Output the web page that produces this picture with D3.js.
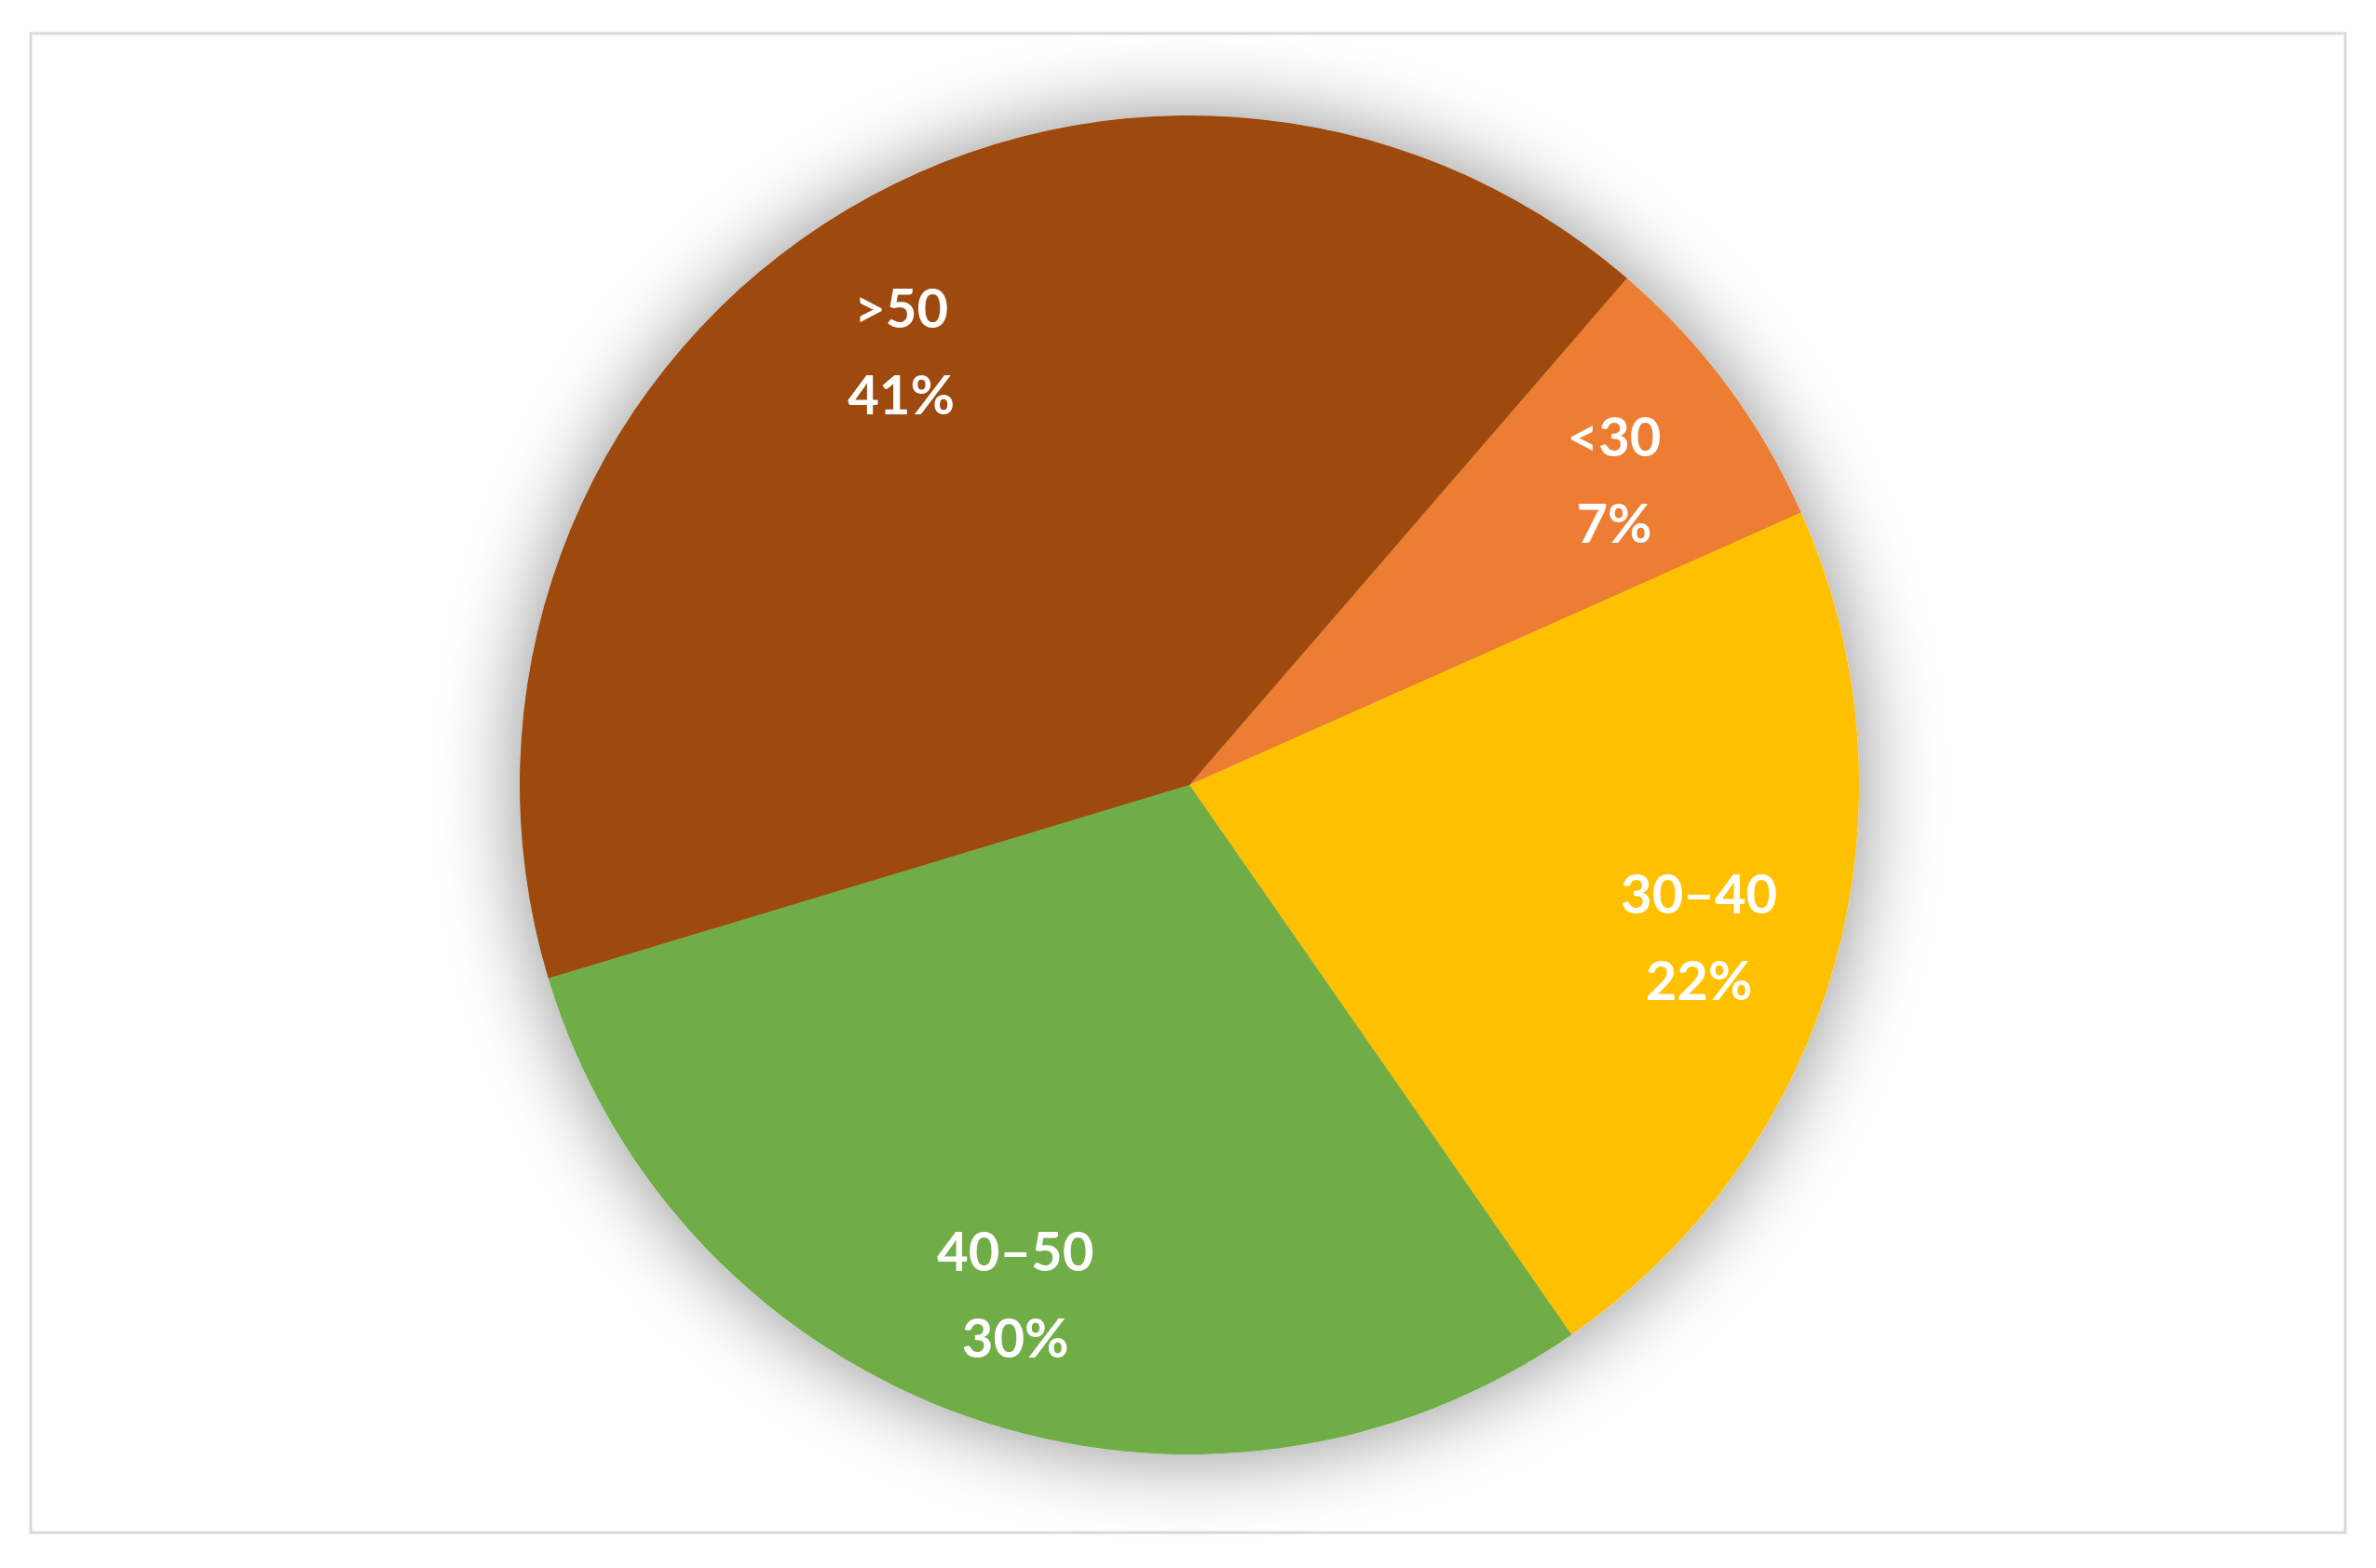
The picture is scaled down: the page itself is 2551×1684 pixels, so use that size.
<!DOCTYPE html>
<html lang="en">
<head>
<meta charset="UTF-8">
<title>Pie</title>
<script src="https://d3js.org/d3.v7.min.js"></script>
<style>
  * { margin: 0; padding: 0; }
  body { background: #fff; width: 2551px; height: 1684px; overflow: hidden; }
  .lbl { font-family: Lato, 'Open Sans', sans-serif; font-weight: bold; font-size: 58px; fill: #fff; text-anchor: middle; }
</style>
</head>
<body>
<svg id="chart" width="2551" height="1684"></svg>
<script>
  const categories = ["<30", "30\u201340", "40\u201350", ">50"];
  const values = [7, 22, 30, 41];
  const colors = ["#ED7D31", "#FFC000", "#70AD47", "#9E480E"];

  const width = 2551, height = 1684;
  const cx = 1277, cy = 843, radius = 719;
  const startDeg = 40.8;

  const svg = d3.select("#chart");
  svg.append("rect")
    .attr("x", 33).attr("y", 36).attr("width", 2485).attr("height", 1610)
    .attr("fill", "#fff").attr("stroke", "#d9d9d9").attr("stroke-width", 3);

  const defs = svg.append("defs");
  const f = defs.append("filter").attr("id", "glow")
    .attr("x", "-30%").attr("y", "-30%").attr("width", "160%").attr("height", "160%");
  f.append("feGaussianBlur").attr("in", "SourceAlpha").attr("stdDeviation", 45).attr("result", "b");
  f.append("feComponentTransfer").attr("in", "b").attr("result", "s")
    .append("feFuncA").attr("type", "linear").attr("slope", 0.45);
  const m = f.append("feMerge");
  m.append("feMergeNode").attr("in", "s");
  m.append("feMergeNode").attr("in", "SourceGraphic");

  const data = categories.map((c, i) => ({ cat: c, value: values[i], color: colors[i] }));
  const start = startDeg * Math.PI / 180;
  const pie = d3.pie().value(d => d.value).sort(null)
    .startAngle(start).endAngle(start + 2 * Math.PI);
  const arc = d3.arc().innerRadius(0).outerRadius(radius);
  const labelArc = d3.arc().innerRadius(radius * 0.79).outerRadius(radius * 0.79);

  const g = svg.append("g").attr("transform", `translate(${cx},${cy})`);
  const slices = g.append("g").attr("filter", "url(#glow)");
  slices.selectAll("path").data(pie(data)).enter().append("path")
    .attr("d", arc).attr("fill", d => d.data.color);

  const labels = g.selectAll("text.lbl").data(pie(data)).enter().append("text")
    .attr("class", "lbl")
    .attr("transform", d => `translate(${labelArc.centroid(d)})`);
  labels.append("tspan").attr("x", 0).attr("dy", "-0.25em").text(d => d.data.cat);
  labels.append("tspan").attr("x", 0).attr("dy", "1.6em").text(d => d.data.value + "%");
</script>
</body>
</html>
